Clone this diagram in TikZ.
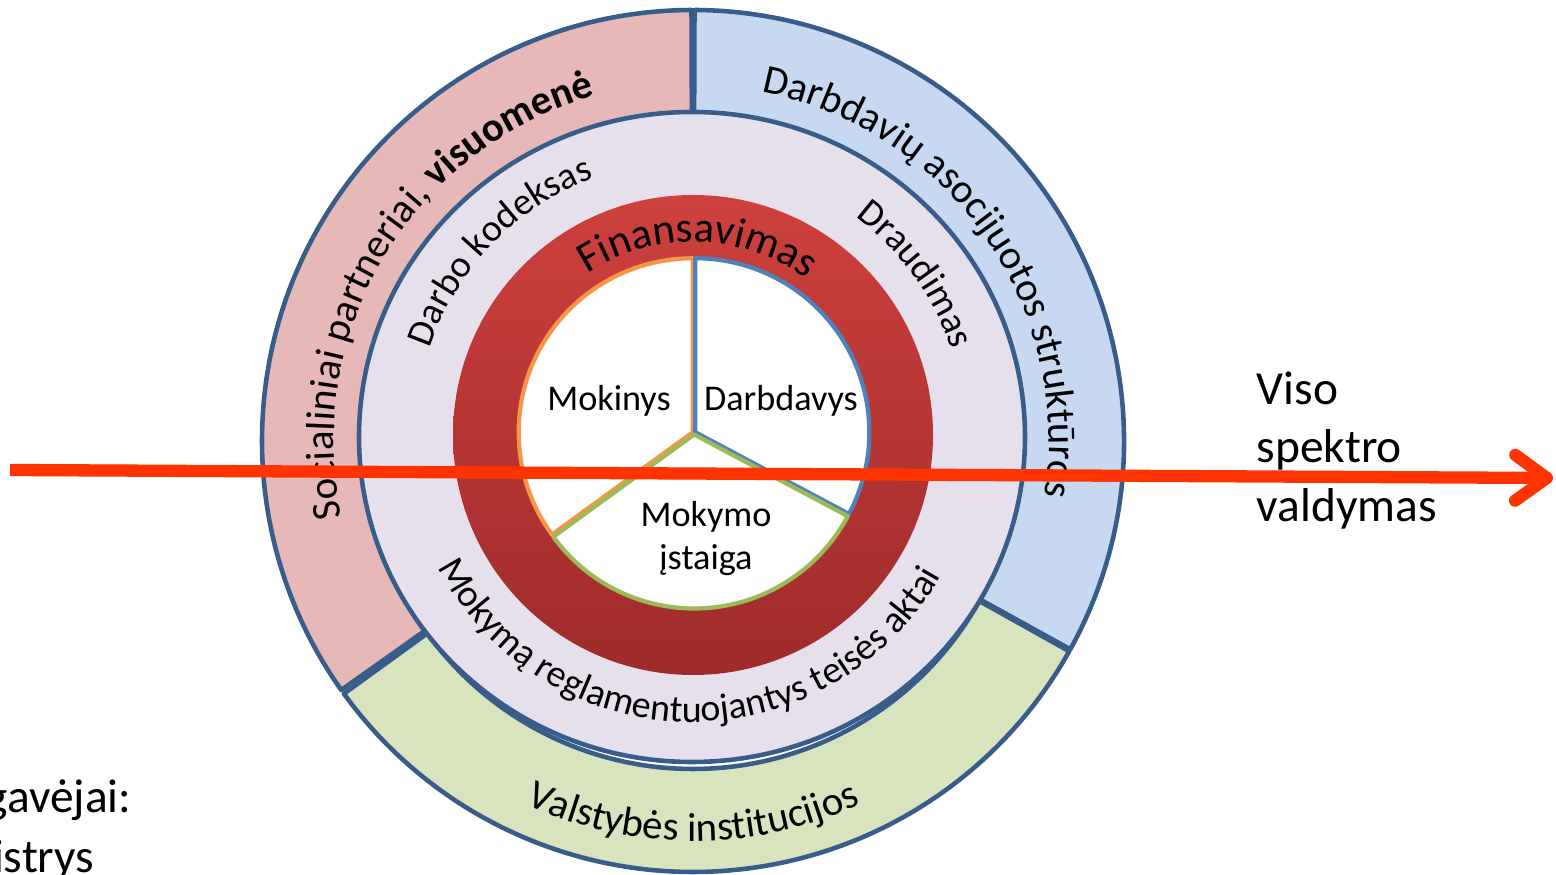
\documentclass[tikz,border=0pt]{standalone}
\usepackage{fontspec}
\setmainfont{Carlito}
\usepackage{tikz}
\usetikzlibrary{arrows.meta}
\usetikzlibrary{decorations.text}

\definecolor{ringline}{HTML}{385D8A}
\definecolor{pinkring}{HTML}{E6B9B8}
\definecolor{bluering}{HTML}{C6D9F1}
\definecolor{greenring}{HTML}{D7E4BD}
\definecolor{lavring}{HTML}{E6E0EC}
\definecolor{redtop}{HTML}{CD403D}
\definecolor{redbottom}{HTML}{9E2B2B}
\definecolor{arrowred}{HTML}{FF3300}
\definecolor{orangeline}{HTML}{F79646}
\definecolor{blueline}{HTML}{4F81BD}
\definecolor{greenline}{HTML}{9BBB59}

\newcommand{\outertext}{\fontsize{11.6}{13.6}\selectfont}
\newcommand{\redtext}{\fontsize{12.2}{14}\selectfont}
\newcommand{\midtext}{\fontsize{10.8}{12.6}\selectfont}
\newcommand{\innertext}{\fontsize{10.3}{12.2}\selectfont}
\newcommand{\sidetext}{\fontsize{13.5}{16.6}\selectfont}

\tikzset{
  segment/.style={draw=ringline, line width=1.3pt, line join=round},
  sector/.style={fill=white, line width=1.2pt, line join=round},
  arctext/.style={decorate, decoration={text along path, text align=center, text={#1}}},
}

\begin{document}
\begin{tikzpicture}
          \useasboundingbox (0,0) rectangle (15.56,8.75);
          \coordinate (c) at (6.93,4.34);
          \coordinate (l) at (6.92,4.38);
          \coordinate (r) at (6.93,4.40);
          \coordinate (w) at (6.94,4.42);
          % outer ring
          \draw[segment, fill=pinkring, shift={(c)}] (90.2:4.31) arc[start angle=90.2, end angle=215.3, radius=4.31] -- (215.3:3.28) arc[start angle=215.3, end angle=90.2, radius=3.28] -- cycle;
          \draw[segment, fill=greenring, shift={(c)}] (215.9:4.31) arc[start angle=215.9, end angle=330.8, radius=4.31] -- (330.8:3.28) arc[start angle=330.8, end angle=215.9, radius=3.28] -- cycle;
          \draw[segment, fill=bluering, shift={(c)}] (-28.9:4.31) arc[start angle=-28.9, end angle=89.8, radius=4.31] -- (89.8:3.28) arc[start angle=89.8, end angle=-28.9, radius=3.28] -- cycle;
          % middle ring
          \filldraw[fill=lavring, draw=ringline, line width=1.3pt] (l) ellipse [x radius=3.33, y radius=3.25];
          % red ring
          \shade[top color=redtop, bottom color=redbottom] (r) circle [radius=2.40];
          % centre
          \filldraw[sector, draw=orangeline, shift={(w)}, shift={(153:0.015)}] (0,0) -- (90:1.74) arc[start angle=90, end angle=216, radius=1.74] -- cycle;
          \filldraw[sector, draw=blueline, shift={(w)}, shift={(31:0.015)}] (0,0) -- (-28:1.74) arc[start angle=-28, end angle=90, radius=1.74] -- cycle;
          \filldraw[sector, draw=greenline, shift={(w)}, shift={(274:0.015)}] (0,0) -- (216:1.74) arc[start angle=216, end angle=332, radius=1.74] -- cycle;
          \node[anchor=base, inner sep=0, font=\innertext] (mokinys) at (6.09,4.64) {Mokinys};
          \node[anchor=base, inner sep=0, font=\innertext] (darbdavys) at (7.81,4.64) {Darbdavys};
          \node[anchor=north, inner sep=0, align=center, font=\innertext] (istaiga) at (7.06,3.74) {Mokymo\\įstaiga};
          % ring labels
          \path[arctext={|\outertext|Socialiniai partneriai, |\outertext\bfseries|visuomenė}, shift={(c)}] (217:3.59) arc[start angle=217, end angle=81, radius=3.59];
          \path[arctext={|\outertext|Darbdavių asocijuotos struktūros}, shift={(c)}] (105:3.56) arc[start angle=105, end angle=-35, radius=3.56];
          \path[arctext={|\outertext|Valstybės institucijos}, shift={(c)}] (210:4.00) arc[start angle=210, end angle=330, radius=4.00];
          \path[arctext={|\midtext|Darbo kodeksas}, shift={(l)}] (190:2.77) arc[start angle=190, end angle=82, radius=2.77];
          \path[arctext={|\midtext|Draudimas}, shift={(l)}] (90:2.74) arc[start angle=90, end angle=-18, radius=2.74];
          \path[arctext={|\midtext|Mokymą reglamentuojantys teisės aktai}, shift={(l)}] (185:2.85) arc[start angle=185, end angle=353, radius=2.85];
          \path[arctext={|\redtext|Finansavimas}, shift={(r)}] (150:1.93) arc[start angle=150, end angle=27, radius=1.93];
          % side labels
          \node[anchor=north west, inner sep=0, align=left, font=\sidetext] (spektras) at (12.56,5.04) {Viso\\spektro\\valdymas};
          \node[anchor=base east, inner sep=0, font=\sidetext] (gavejai) at (1.32,0.62) {gavėjai:};
          \node[anchor=base east, inner sep=0, font=\sidetext] (istrys) at (0.95,0.02) {istrys};
          % arrow
          \coordinate (start) at (0.10,4.05);
          \coordinate (tip) at (15.53,3.97);
          \draw[arrowred, line width=3.5pt, -{Straight Barb[length=9pt,width=13pt,round]}] (start) -- (tip);
        \end{tikzpicture}
\end{document}
